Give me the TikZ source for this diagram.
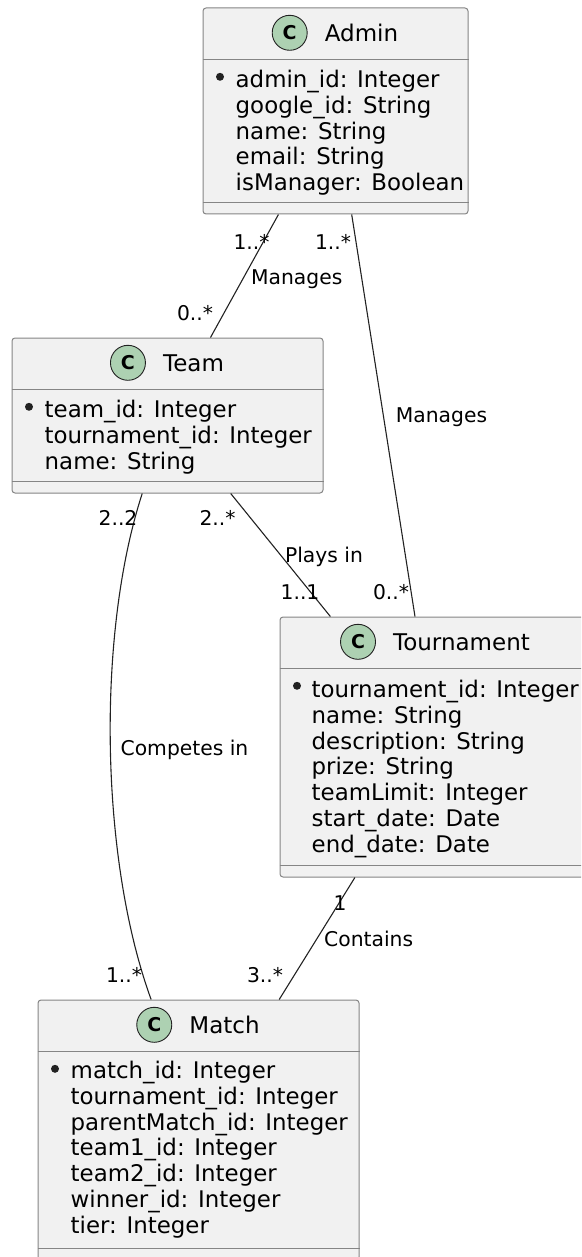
\documentclass[tikz,border=0pt]{standalone}
\usepackage{fontspec}
\setmainfont{DejaVu Sans}
\usetikzlibrary{calc, positioning}

\definecolor{classfill}{HTML}{F1F1F1}
\definecolor{classline}{HTML}{858585}
\definecolor{badgefill}{HTML}{ADD1B2}
\definecolor{inkline}{HTML}{222222}

\begin{document}
\begin{tikzpicture}[x=1pt, y=-1pt,
  classbox/.style={draw=classline, fill=classfill, line width=1pt, rounded corners=3pt, inner sep=0pt},
  sepline/.style={draw=classline, line width=1pt},
  badge/.style={circle, draw=inkline, fill=badgefill, line width=0.9pt, minimum size=35pt, inner sep=0pt, font=\fontsize{19}{19}\selectfont\bfseries},
  classtitle/.style={inner sep=0pt, anchor=base, text height=16.8pt, text depth=0pt, font=\fontsize{23}{25.8}\selectfont},
  attr/.style={inner sep=0pt, anchor=base west, font=\fontsize{22.9}{25.8}\selectfont},
  assoc/.style={draw=inkline, line width=1.1pt},
  mult/.style={inner sep=0pt, anchor=base, font=\fontsize{20.3}{24}\selectfont},
]
  \useasboundingbox (0,0) rectangle (581,1257);
  \clip (0,0) rectangle (581,1257);

  % classes
  \node[classbox, minimum width=265pt, minimum height=206pt] (admin) at (335.5,111) {};
  \node[classbox, minimum width=311pt, minimum height=155pt] (team) at (167.5,415.5) {};
  \node[classbox, minimum width=311pt, minimum height=260pt] (tournament) at (435.5,747) {};
  \node[classbox, minimum width=321pt, minimum height=260pt] (match) at (198.5,1130) {};

  \foreach \c in {admin, team, tournament, match} {
    \draw[sepline]
    ($(\c.north west)+(0,52)$)
    --
    ($(\c.north east)+(0,52)$)
    ;
    \draw[sepline]
    ($(\c.south west)+(0,-12)$)
    --
    ($(\c.south east)+(0,-12)$)
    ;
    \fill[inkline] ($(\c.north west)+(17.5,69.3)$) circle (4pt);
  }

  \node[classtitle] (admintitle) at ($(admin.north)+(26,33.7)$) {Admin};
  \node[badge, left=17pt of admintitle] (adminbadge) {C};
  \node[classtitle] (teamtitle) at ($(team.north)+(26,33.7)$) {Team};
  \node[badge, left=17pt of teamtitle] (teambadge) {C};
  \node[classtitle] (tournamenttitle) at ($(tournament.north)+(26,33.7)$) {Tournament};
  \node[badge, left=17pt of tournamenttitle] (tournamentbadge) {C};
  \node[classtitle] (matchtitle) at ($(match.north)+(26,33.7)$) {Match};
  \node[badge, left=17pt of matchtitle] (matchbadge) {C};

  \foreach \t [count=\i from 0] in {admin\_id: Integer, google\_id: String, name: String, email: String, isManager: Boolean}
    \node[attr] (adminattr\i) at ($(admin.north west)+(33,{80+25.8*\i})$) {\t};
  \foreach \t [count=\i from 0] in {team\_id: Integer, tournament\_id: Integer, name: String}
    \node[attr] (teamattr\i) at ($(team.north west)+(33,{80+25.8*\i})$) {\t};
  \foreach \t [count=\i from 0] in {tournament\_id: Integer, name: String, description: String, prize: String, teamLimit: Integer, start\_date: Date, end\_date: Date}
    \node[attr] (tournamentattr\i) at ($(tournament.north west)+(32,{81+25.8*\i})$) {\t};
  \foreach \t [count=\i from 0] in {match\_id: Integer, tournament\_id: Integer, parentMatch\_id: Integer, team1\_id: Integer, team2\_id: Integer, winner\_id: Integer, tier: Integer}
    \node[attr] (matchattr\i) at ($(match.north west)+(33,{79+25.8*\i})$) {\t};

  % associations
  \draw[assoc] (admin) -- (team);
  \draw[assoc] (admin) -- (tournament);
  \draw[assoc] (team) -- (tournament);
  \draw[assoc] (tournament) -- (match);
  \draw[assoc] (team) to[out=-108, in=110, looseness=0.75] (match);

  \node[mult] (adminteamA) at (251.5,249) {1..*};
  \node[mult] (adminteamB) at (195,320) {0..*};
  \node[mult] (adminteamL) at (296.7,284) {Manages};
  \node[mult] (admintourA) at (333,249) {1..*};
  \node[mult] (admintourB) at (391,599) {0..*};
  \node[mult] (admintourL) at (441.5,422) {Manages};
  \node[mult] (teamtourA) at (217.5,525.5) {2..*};
  \node[mult] (teamtourB) at (300,599) {1..1};
  \node[mult] (teamtourL) at (324,562) {Plays in};
  \node[mult] (teammatchA) at (118,525.5) {2..2};
  \node[mult] (teammatchB) at (124,982.5) {1..*};
  \node[mult] (teammatchL) at (184.5,755) {Competes in};
  \node[mult] (tourmatchA) at (340,910.5) {1};
  \node[mult] (tourmatchB) at (265,982.5) {3..*};
  \node[mult] (tourmatchL) at (368.7,946.7) {Contains};
\end{tikzpicture}
\end{document}
